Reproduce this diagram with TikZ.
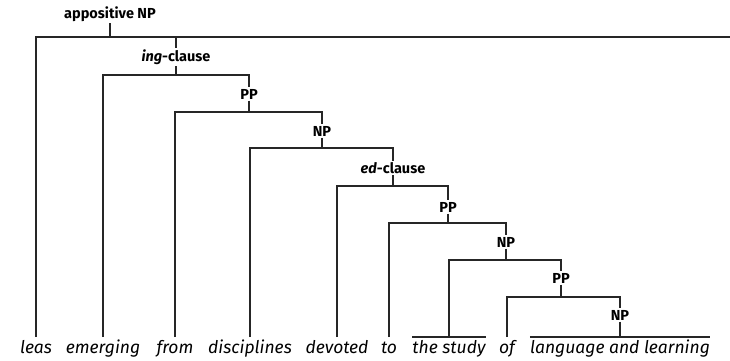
\documentclass[tikz,border=0pt]{standalone}
\usepackage{fontspec}
\setmainfont{Fira Sans}
\usepackage{tikz}
\usetikzlibrary{positioning,calc}

\tikzset{
  phrase/.style={font=\bfseries\fontsize{14.5}{16}\selectfont, inner sep=1.5pt},
  word/.style={font=\itshape\fontsize{17.5}{20}\selectfont, anchor=north,
    inner xsep=0pt, inner ysep=3pt, text height=13pt, text depth=4pt},
  branch/.style={line width=1.1pt, black!85},
}

\begin{document}
\begin{tikzpicture}[x=1pt,y=-1pt]
\useasboundingbox (0,0) rectangle (730,360);
\clip (0,0) rectangle (730,360);
% words
\node[word] (w1) at (36,337) {leas};
\node[word] (w2) at (103,337) {emerging};
\node[word] (w3) at (175,337) {from};
\node[word] (w4) at (250,337) {disciplines};
\node[word] (w5) at (337,337) {devoted};
\node[word] (w6) at (389,337) {to};
\node[word] (w7) at (449,337) {the study};
\node[word] (w8) at (507,337) {of};
\node[word] (w9) at (620,337) {language and learning};
% phrases
\node[phrase] (ap) at (110,14) {appositive NP};
\node[phrase] (ing) at (176,57) {\textit{ing}-clause};
\node[phrase] (pp1) at (249,94) {PP};
\node[phrase] (np1) at (322,131) {NP};
\node[phrase] (ed) at (393,168) {\textit{ed}-clause};
\node[phrase] (pp2) at (448,207) {PP};
\node[phrase] (np2) at (506,242) {NP};
\node[phrase] (pp3) at (561,278) {PP};
\node[phrase] (np3) at (620,315) {NP};
% bars
\coordinate (b0) at (110,37);
\coordinate (edge) at (730,37);
\coordinate (b1) at (176,75);
\coordinate (b2) at (249,112);
\coordinate (b3) at (322,148);
\coordinate (b4) at (393,186);
\coordinate (b5) at (448,223);
\coordinate (b6) at (506,260);
\coordinate (b7) at (561,297);
% appositive NP
\draw[branch] (ap.south) -- (b0);
\draw[branch] (w1.north) |- (edge);
\draw[branch] (ing.north) -- (ing.north |- edge);
% ing-clause
\draw[branch] (ing.south) -- (b1);
\draw[branch] (w2.north) |- (b1) -| (pp1.north);
% PP
\draw[branch] (pp1.south) -- (b2);
\draw[branch] (w3.north) |- (b2) -| (np1.north);
% NP
\draw[branch] (np1.south) -- (b3);
\draw[branch] (w4.north) |- (b3) -| (ed.north);
% ed-clause
\draw[branch] (ed.south) -- (b4);
\draw[branch] (w5.north) |- (b4) -| (pp2.north);
% PP
\draw[branch] (pp2.south) -- (b5);
\draw[branch] (w6.north) |- (b5) -| (np2.north);
% NP
\draw[branch] (np2.south) -- (b6);
\draw[branch] (w7.north) |- (b6) -| (pp3.north);
\draw[branch] (w7.north west) -- (w7.north east);
% PP
\draw[branch] (pp3.south) -- (b7);
\draw[branch] (w8.north) |- (b7) -| (np3.north);
% NP
\draw[branch] (np3.south) -- (w9.north);
\draw[branch] (w9.north west) -- (w9.north east);
\end{tikzpicture}
\end{document}
